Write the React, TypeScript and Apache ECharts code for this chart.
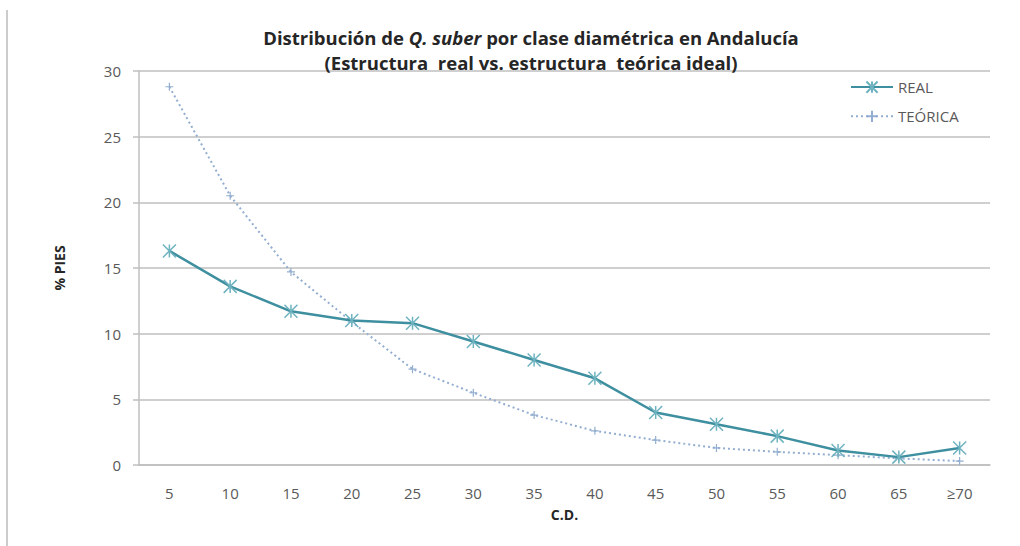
import React, { useEffect, useRef } from "react";
import * as echarts from "echarts";

const categories = ["5", "10", "15", "20", "25", "30", "35", "40", "45", "50", "55", "60", "65", "≥70"];
const realValues = [16.3, 13.6, 11.7, 11.0, 10.8, 9.4, 8.0, 6.6, 4.0, 3.1, 2.2, 1.1, 0.6, 1.3];
const teoricaValues = [28.8, 20.5, 14.7, 10.9, 7.3, 5.5, 3.8, 2.6, 1.9, 1.3, 1.0, 0.75, 0.5, 0.3];
const yTicks = { min: 0, max: 30, interval: 5 };

const asterisk = "path://M0,0L10,10M10,0L0,10M5,0L5,10";
const plus = "path://M5,0L5,10M0,5L10,5";

export default function App() {
  const ref = useRef<HTMLDivElement>(null);
  useEffect(() => {
    if (!ref.current) return;
    const chart = echarts.init(ref.current, undefined, { renderer: "svg" });
    const font = "Open Sans";
    chart.setOption({
      animation: false,
      backgroundColor: "#ffffff",
      textStyle: { fontFamily: font },
      title: {
        text: "{b|Distribución de }{i|Q. suber}{b| por clase diamétrica en Andalucía}\n{b|(Estructura  real vs. estructura  teórica ideal)}",
        left: 526,
        textAlign: "center",
        top: 20,
        textStyle: {
          rich: {
            b: { fontFamily: font, fontWeight: "bold", fontSize: 18.5, color: "#262626", lineHeight: 25 },
            i: { fontFamily: font, fontWeight: "bold", fontStyle: "italic", fontSize: 18.5, color: "#262626", lineHeight: 25 },
          },
        },
      },
      legend: {
        orient: "vertical",
        left: 845,
        top: 74,
        itemGap: 13,
        itemWidth: 42,
        itemHeight: 14,
        textStyle: { fontFamily: font, fontSize: 15, color: "#595959" },
        data: ["REAL", "TEÓRICA"],
      },
      graphic: [
        { type: "line", shape: { x1: 7, y1: 10, x2: 7, y2: 546 }, style: { stroke: "#bbbbbb", lineWidth: 1.5 } },
      ],
      grid: { left: 139, right: 30, top: 71, bottom: 81, containLabel: false },
      xAxis: {
        type: "category",
        data: categories,
        boundaryGap: true,
        name: "C.D.",
        nameLocation: "middle",
        nameGap: 42,
        nameTextStyle: { fontFamily: font, fontWeight: "bold", fontSize: 14, color: "#262626" },
        axisLine: { show: true, lineStyle: { color: "#bfbfbf", width: 1.5 } },
        axisTick: { show: false },
        axisLabel: { fontFamily: font, fontSize: 15, color: "#595959", margin: 20 },
        splitLine: { show: false },
      },
      yAxis: {
        type: "value",
        min: yTicks.min,
        max: yTicks.max,
        interval: yTicks.interval,
        name: "% PIES",
        nameLocation: "middle",
        nameGap: 73,
        nameRotate: 90,
        nameTextStyle: { fontFamily: font, fontWeight: "bold", fontSize: 14, color: "#262626" },
        axisLine: { show: true, lineStyle: { color: "#bfbfbf", width: 1.5 } },
        axisTick: { show: true, length: 6, lineStyle: { color: "#bfbfbf", width: 1.5 } },
        axisLabel: { fontFamily: font, fontSize: 15, color: "#595959", margin: 18 },
        splitLine: { show: true, lineStyle: { color: "#bfbfbf", width: 1.5 } },
      },
      series: [
        {
          name: "REAL",
          type: "line",
          data: realValues,
          symbol: asterisk,
          symbolSize: 13,
          color: "#3e8f9f",
          lineStyle: { color: "#3e8f9f", width: 2.5 },
          itemStyle: { color: "none", borderColor: "#6fb3c0", borderWidth: 1.5 },
          z: 3,
        },
        {
          name: "TEÓRICA",
          type: "line",
          data: teoricaValues,
          symbol: plus,
          symbolSize: 8,
          color: "#93aed0",
          lineStyle: { color: "#93aed0", width: 2, type: [2, 3] },
          itemStyle: { color: "none", borderColor: "#93aed0", borderWidth: 1.2 },
          z: 2,
        },
      ],
    });
    return () => chart.dispose();
  }, []);
  return <div ref={ref} style={{ position: "absolute", left: 0, top: 0, width: 1020, height: 546 }} />;
}
